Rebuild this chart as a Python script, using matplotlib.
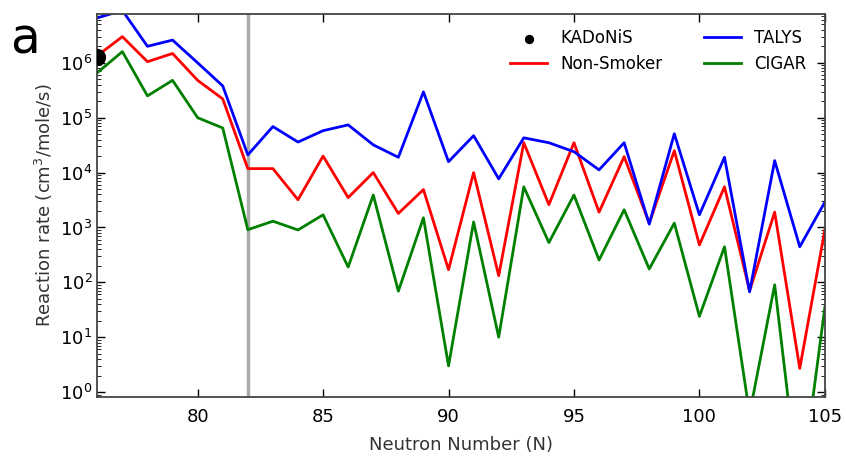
import numpy as np
import matplotlib
matplotlib.use("Agg")
import matplotlib.pyplot as plt

# neutron numbers and reaction rates (cm^3/mole/s)
neutrons = list(range(76, 106))
talys = [6.6e6, 9.0e6, 2.0e6, 2.6e6, 1.0e6, 3.8e5, 2.1e4, 6.9e4, 3.6e4, 5.8e4,
         7.4e4, 3.2e4, 1.9e4, 2.96e5, 1.58e4, 4.7e4, 7.7e3, 4.3e4, 3.5e4, 2.4e4,
         1.12e4, 3.5e4, 1.15e3, 5.1e4, 1.7e3, 1.9e4, 67, 1.65e4, 445, 2.9e3]
non_smoker = [1.35e6, 3.0e6, 1.05e6, 1.48e6, 4.8e5, 2.2e5, 1.18e4, 1.18e4, 3.2e3, 2.0e4,
              3.5e3, 1.0e4, 1.8e3, 4.9e3, 170, 1.0e4, 132, 3.5e4, 2.6e3, 3.5e4,
              1.9e3, 1.95e4, 1.2e3, 2.5e4, 480, 5.5e3, 70, 1.9e3, 2.7, 900]
cigar = [6.6e5, 1.6e6, 2.5e5, 4.8e5, 1.0e5, 6.5e4, 910, 1.3e3, 900, 1.7e3,
         190, 3.9e3, 69, 1.5e3, 3.0, 1.26e3, 10, 5.5e3, 530, 3.9e3,
         255, 2.1e3, 175, 1.2e3, 24, 445, 0.4, 90, 0.012, 35]
kadonis_n = [76]
kadonis_rate = [1.3e6]
closed_shell = 82

plt.rcParams["font.family"] = ["DejaVu Sans"]
fig = plt.figure(figsize=(8.46, 4.63), dpi=100)
ax = fig.add_axes([0.115, 0.143, 0.86, 0.827])

ax.axvline(closed_shell, color="#aaaaaa", lw=2.5, zorder=1)
sc = ax.scatter(kadonis_n, kadonis_rate, s=130, color="black", label="KADoNiS", zorder=5)
sc.set_clip_path(ax.patch)
ax.plot(neutrons, non_smoker, "-", color="red", lw=2, label="Non-Smoker")
ax.plot(neutrons, talys, "-", color="blue", lw=2, label="TALYS")
ax.plot(neutrons, cigar, "-", color="green", lw=2, label="CIGAR")

ax.set_yscale("log")
ax.set_xlim(76, 105)
ax.set_ylim(0.82, 7.8e6)
ax.set_xticks([80, 85, 90, 95, 100, 105])
ax.tick_params(which="both", direction="in", top=True, right=True, labelsize=13)
ax.tick_params(which="major", length=6, width=1)
ax.tick_params(which="minor", length=3)
ax.tick_params(axis="x", pad=8)
for s in ax.spines.values():
    s.set_color("#444444")
    s.set_linewidth(1.3)

ax.set_xlabel("Neutron Number (N)", fontsize=13, labelpad=7, color="#333333")
ax.set_ylabel("Reaction rate (cm$^3$/mole/s)", fontsize=13, color="#333333")

ax.legend(loc="upper right", ncol=2, frameon=False, fontsize=12,
          scatterpoints=1, markerscale=0.5, handlelength=2.2,
          columnspacing=2.5, bbox_to_anchor=(0.995, 1.0))

fig.text(0.012, 0.885, "a", fontsize=35)

fig.savefig("out.png", dpi=100)
